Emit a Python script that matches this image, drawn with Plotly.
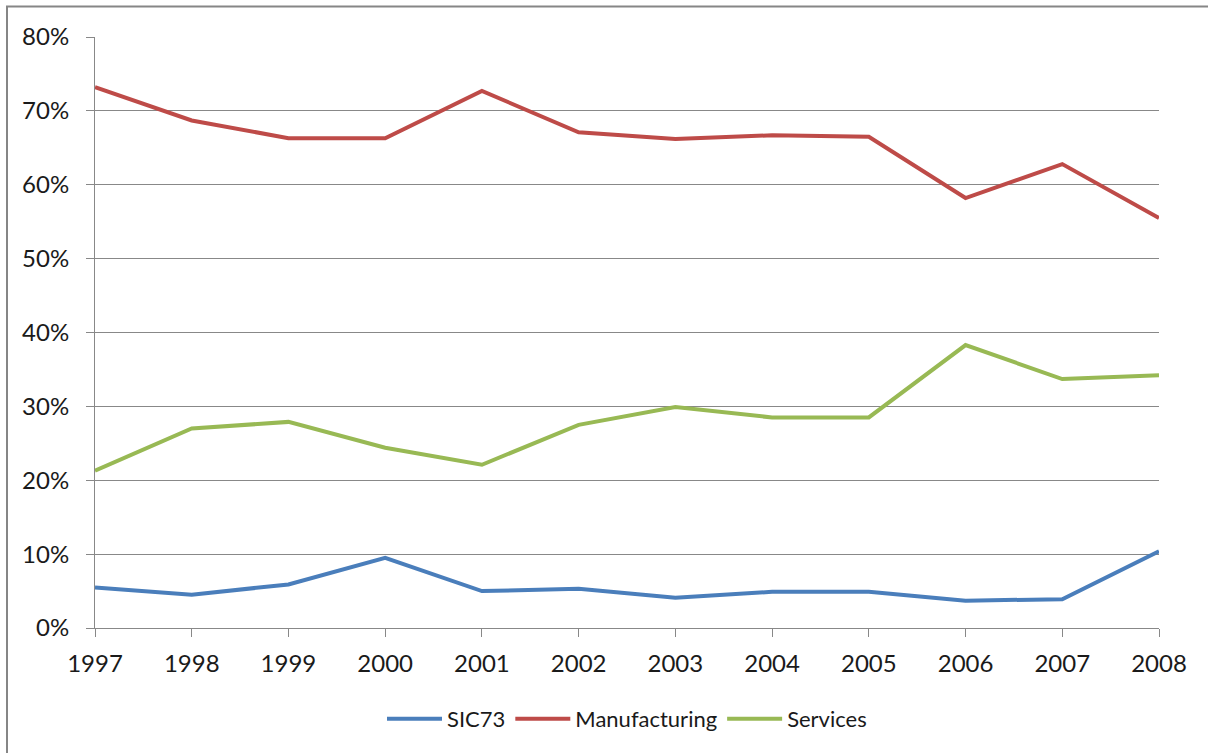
import plotly.graph_objects as go

years = ["1997", "1998", "1999", "2000", "2001", "2002",
         "2003", "2004", "2005", "2006", "2007", "2008"]

sic73 = [0.055, 0.045, 0.059, 0.095, 0.050, 0.053,
         0.041, 0.049, 0.049, 0.037, 0.039, 0.104]
manufacturing = [0.732, 0.687, 0.663, 0.663, 0.727, 0.671,
                 0.662, 0.667, 0.665, 0.582, 0.628, 0.555]
services = [0.213, 0.270, 0.279, 0.244, 0.221, 0.275,
            0.299, 0.285, 0.285, 0.383, 0.337, 0.342]

series = [
    ("SIC73", sic73, "#4A7EBB"),
    ("Manufacturing", manufacturing, "#BE4B48"),
    ("Services", services, "#98B954"),
]

fig = go.Figure()
for name, vals, color in series:
    fig.add_trace(go.Scatter(
        x=years, y=vals, name=name, mode="lines",
        line=dict(color=color, width=4),
    ))

axis_grey = "#888888"
font_family = "Lato, Carlito, 'Open Sans', sans-serif"

fig.update_layout(
    width=1208, height=753,
    margin=dict(l=95, r=49, t=37, b=125),
    paper_bgcolor="white", plot_bgcolor="white",
    font=dict(family=font_family, size=24, color="#1a1a1a"),
    showlegend=True,
    legend=dict(
        orientation="h", x=0.5, xanchor="center",
        y=-0.154, yanchor="middle",
        itemwidth=55, font=dict(size=22),
        tracegroupgap=0,
    ),
    xaxis=dict(
        type="category", showgrid=False,
        showline=True, linecolor=axis_grey, linewidth=1,
        ticks="outside", ticklen=8, tickcolor=axis_grey,
        tickfont=dict(size=24), range=[0, 11],
        ticklabelstandoff=6,
    ),
    yaxis=dict(
        range=[0, 0.8], dtick=0.1, tickformat=".0%",
        showgrid=True, gridcolor=axis_grey, gridwidth=1,
        showline=True, linecolor=axis_grey, linewidth=1,
        ticks="outside", ticklen=8, tickcolor=axis_grey,
        tickfont=dict(size=24), zeroline=False,
        ticklabelstandoff=12,
    ),
)

# outer chart frame (partially clipped at right and bottom)
fig.add_shape(
    type="rect", xref="paper", yref="paper",
    x0=-0.0827, y0=-0.35, x1=1.2, y1=1.0516,
    line=dict(color="#868686", width=2), fillcolor="rgba(0,0,0,0)",
    layer="below",
)

fig.write_html("out.html")
